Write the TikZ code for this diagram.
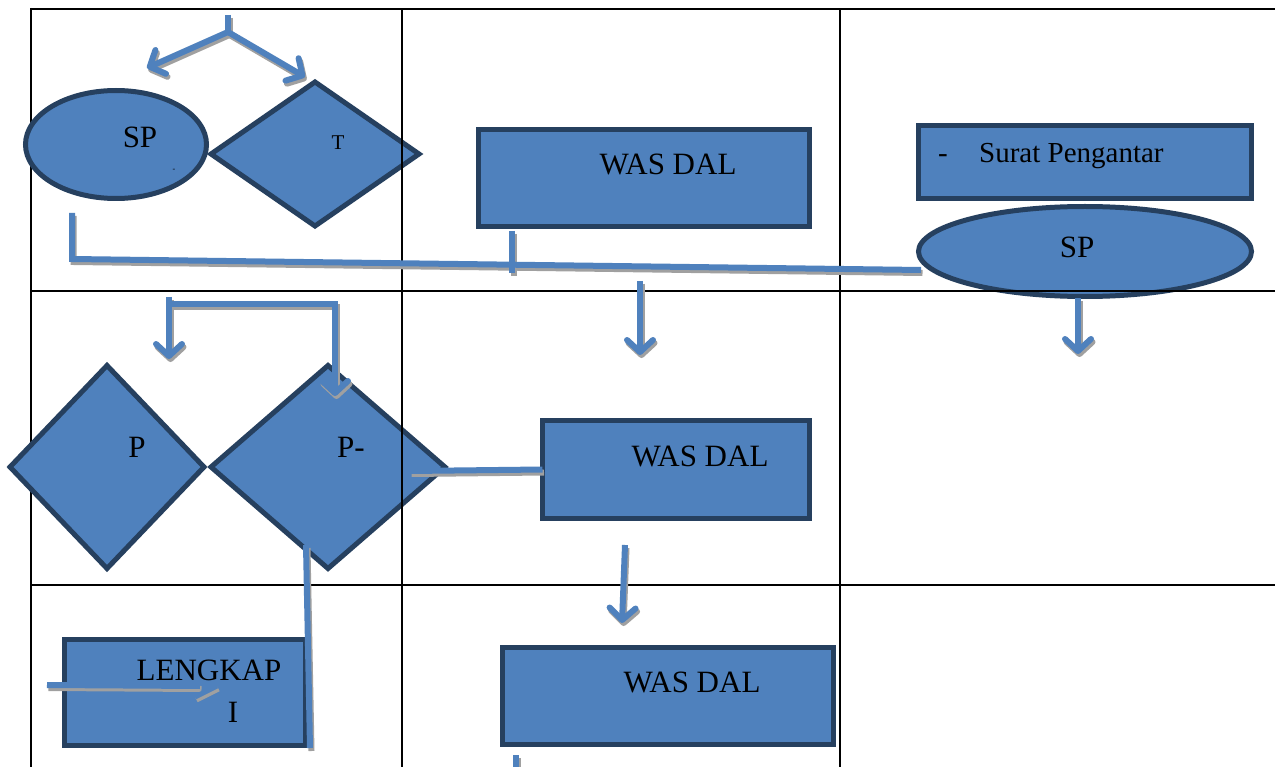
\documentclass[tikz,border=0pt]{standalone}
\usepackage{fontspec}
\setmainfont{Liberation Serif}
\usetikzlibrary{shapes.geometric,arrows.meta}
\definecolor{fillblue}{HTML}{4F81BD}
\definecolor{edgeblue}{HTML}{26405F}
\definecolor{lineblue}{HTML}{4F81BD}
\definecolor{shadowgray}{HTML}{A0A0A0}
\newcommand\allconnectors[1]{%
  \draw[#1] (top0) -- (jn);
  \draw[#1,arr] (jn) -- (a1);
  \draw[#1,arr] (jn) -- (a2);
  \draw[#1] (l0) -- (l1) -- (l2);
  \draw[#1] (w0) -- (w1);
  \draw[#1,arr] (m0) -- (m1);
  \draw[#1,arr] (r0) -- (r1);
  \draw[#1,arr] (b0) -- (b2);
  \draw[#1,arr] (b1) -- (b3) -- (b4);
  \draw[#1] (h0) -- (was2.west);
  \draw[#1,arr] (d0) -- (d1);
  \draw[#1] (v0) -- (v1);
  \draw[#1] (k0) -- (k1);
  \draw[#1,line width=5pt] (k2) -- (k3);
  \draw[#1] (e0) -- (e1);
}
\begin{document}
\begin{tikzpicture}[x=1pt,y=-1pt,
  box/.style={draw=edgeblue,fill=fillblue,line width=5pt,inner sep=0pt,outer sep=0pt},
  rbox/.style={box,rectangle},
  ebox/.style={box,ellipse},
  dbox/.style={box,diamond},
  lbl/.style={inner sep=0pt,anchor=base,font=\fontsize{31}{31}\selectfont},
  gridline/.style={line width=2pt,black},
  conn/.style={draw=lineblue,line width=6pt},
  connshadow/.style={draw=shadowgray,line width=6pt},
  arr/.style={-{Straight Barb[length=12pt,width=26pt,round]}},
]
\fill[white] (0,0) rectangle (1275,767);
\useasboundingbox (0,0) rectangle (1275,767);

% left table line (under shapes)
\draw[gridline] (31,8) -- (31,767);

% shapes
\node[ebox,minimum width=181pt,minimum height=108pt] (sp1) at (116,144.5) {};
\node[dbox,minimum width=208pt,minimum height=144pt] (t1) at (315,154) {};
\node[rbox,minimum width=331pt,minimum height=97pt] (was1) at (644,178) {};
\node[rbox,minimum width=333pt,minimum height=73pt] (surat) at (1085,162) {};
\node[ebox,minimum width=333pt,minimum height=90pt] (sp2) at (1085,251.5) {};
\node[dbox,minimum width=194pt,minimum height=203pt] (p1) at (107,467) {};
\node[dbox,minimum width=234pt,minimum height=203pt] (p2) at (328,467) {};
\node[rbox,minimum width=267pt,minimum height=98pt] (was2) at (676,469.5) {};
\node[rbox,minimum width=241pt,minimum height=106pt] (lengkap) at (185,692.5) {};
\node[rbox,minimum width=331pt,minimum height=97pt] (was3) at (668,696) {};

% texts
\node[lbl] (sp1txt) at (140,148) {SP};
\node[inner sep=0pt,font=\fontsize{8}{8}\selectfont] (sp1dash) at (174,170) {-};
\node[lbl,font=\fontsize{21}{21}\selectfont] (t1txt) at (338,150) {T};
\node[lbl] (was1txt) at (668,175) {WAS DAL};
\node[inner sep=0pt,anchor=base,font=\fontsize{29}{29}\selectfont] (suratdash) at (943,163) {-};
\node[inner sep=0pt,anchor=base west,font=\fontsize{29}{29}\selectfont] (surattxt) at (979,163) {Surat Pengantar};
\node[lbl] (sp2txt) at (1077,258) {SP};
\node[lbl] (p1txt) at (137,457) {P};
\node[lbl] (p2txt) at (351,457) {P-};
\node[lbl] (was2txt) at (700,466) {WAS DAL};
\node[lbl] (lengkaptxt) at (209,680) {LENGKAP};
\node[lbl] (itxt) at (233,722) {I};
\node[lbl] (was3txt) at (692,692) {WAS DAL};

% remaining table lines
\draw[gridline] (30,9) -- (1275,9);
\draw[gridline] (30,291.5) -- (1275,291.5);
\draw[gridline] (30,585) -- (1275,585);
\draw[gridline] (402,9) -- (402,767);
\draw[gridline] (840,9) -- (840,767);

% connector coordinates
\coordinate (top0) at (228,15);
\coordinate (jn) at (228,32);
\coordinate (a1) at (147,68);
\coordinate (a2) at (305,77);
\coordinate (l0) at (72,213);
\coordinate (l1) at (72,259);
\coordinate (l2) at (921,270);
\coordinate (w0) at (512,231);
\coordinate (w1) at (512,273);
\coordinate (m0) at (640,281);
\coordinate (m1) at (640,355);
\coordinate (r0) at (1078,298);
\coordinate (r1) at (1078,354);
\coordinate (b0) at (169,297);
\coordinate (b1) at (169,304);
\coordinate (b2) at (169,359);
\coordinate (b3) at (335,304);
\coordinate (b4) at (335,396);
\coordinate (h0) at (410,471);
\coordinate (d0) at (625,545);
\coordinate (d1) at (622,623);
\coordinate (v0) at (306,545);
\coordinate (v1) at (310,748);
\coordinate (k0) at (47,685);
\coordinate (k1) at (200,686);
\coordinate (k2) at (195,697);
\coordinate (k3) at (217,686);
\coordinate (e0) at (516,755);
\coordinate (e1) at (516,768);

% connectors with soft shadow
\begin{scope}[transform canvas={xshift=1.5pt,yshift=-3pt}]
  \allconnectors{connshadow}
\end{scope}
\allconnectors{conn}
\end{tikzpicture}
\end{document}
